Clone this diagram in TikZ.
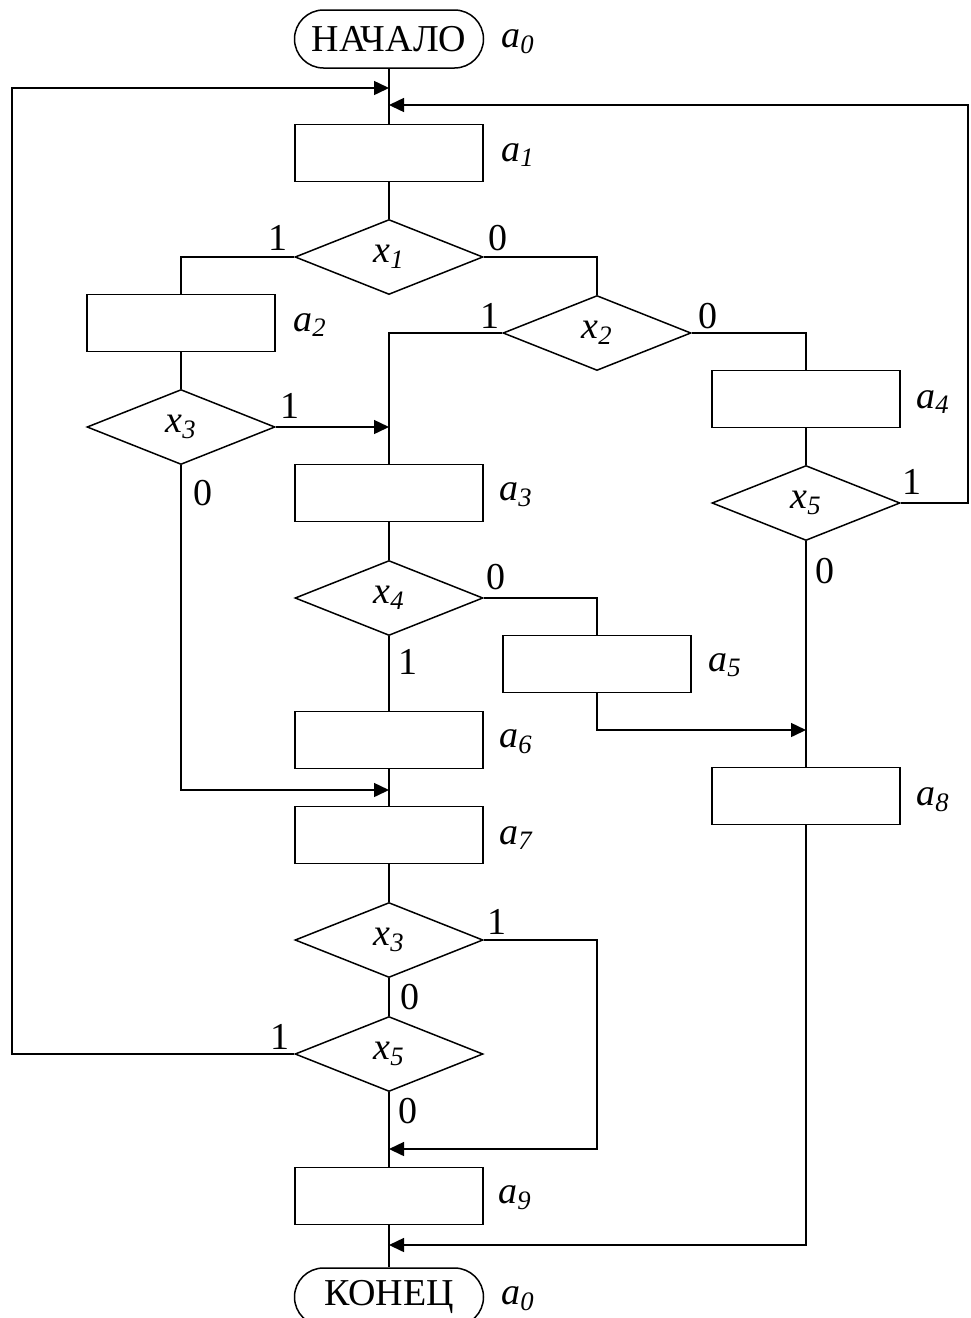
\documentclass[tikz,border=0pt]{standalone}
\usepackage{fontspec}
\setmainfont{Liberation Serif}
\newfontfamily\tnr{Liberation Serif}
\usetikzlibrary{shapes.geometric,arrows.meta}
\newcommand{\lab}[2]{\textit{#1\textsubscript{#2}}}
\tikzset{
  op/.style={draw, rectangle, minimum width=94pt, minimum height=28.5pt, inner sep=0pt},
  dec/.style={draw, diamond, minimum width=94pt, minimum height=37.5pt, inner sep=0pt},
  term/.style={draw, rectangle, rounded corners=14.5pt, minimum width=94.5pt, minimum height=29pt, inner sep=0pt},
  lnk/.style={line width=0.75pt},
  arr/.style={lnk, -{Triangle[length=7.5pt,width=7pt]}},
  txt/.style={inner sep=0pt}
}
\begin{document}
\begin{tikzpicture}[x=0.5pt,y=-0.5pt, every node/.style={font=\tnr\fontsize{19}{22}\selectfont}, line width=0.75pt]
    \useasboundingbox (0,0) rectangle (970,1318);
    % blocks
    \node[term] (start) at (389,39) {НАЧАЛО};
    \node[op] (a1) at (389,153) {};
    \node[dec] (x1) at (389,257) {\lab{x}{1}};
    \node[op] (a2) at (181,323) {};
    \node[dec] (x3a) at (181,427) {\lab{x}{3}};
    \node[dec] (x2) at (597,333) {\lab{x}{2}};
    \node[op] (a4) at (806,399) {};
    \node[dec] (x5a) at (806,503) {\lab{x}{5}};
    \node[op] (a3) at (389,493) {};
    \node[dec] (x4) at (389,598) {\lab{x}{4}};
    \node[op] (a5) at (597,664) {};
    \node[op] (a6) at (389,740) {};
    \node[op] (a7) at (389,835) {};
    \node[op] (a8) at (806,796) {};
    \node[dec] (x3b) at (389,940) {\lab{x}{3}};
    \node[dec] (x5b) at (389,1054) {\lab{x}{5}};
    \node[op] (a9) at (389,1196) {};
    \node[term] (stop) at (389,1297) {КОНЕЦ};
    % state labels
    \node[txt] (la0) at (518,42) {\lab{a}{0}};
    \node[txt] (la1) at (518,155) {\lab{a}{1}};
    \node[txt] (la2) at (310,325) {\lab{a}{2}};
    \node[txt] (la3) at (516,495) {\lab{a}{3}};
    \node[txt] (la4) at (933,402) {\lab{a}{4}};
    \node[txt] (la5) at (725,665) {\lab{a}{5}};
    \node[txt] (la6) at (516,742) {\lab{a}{6}};
    \node[txt] (la7) at (516,838) {\lab{a}{7}};
    \node[txt] (la8) at (933,800) {\lab{a}{8}};
    \node[txt] (la9) at (515,1198) {\lab{a}{9}};
    \node[txt] (lb0) at (518,1299) {\lab{a}{0}};
    % branch labels
    \node[txt] (x1one) at (278,238) {1};
    \node[txt] (x1zero) at (498,238) {0};
    \node[txt] (x2one) at (490,316) {1};
    \node[txt] (x2zero) at (708,316) {0};
    \node[txt] (x3aone) at (290,406) {1};
    \node[txt] (x3azero) at (203,493) {0};
    \node[txt] (x5aone) at (912,482) {1};
    \node[txt] (x5azero) at (825,571) {0};
    \node[txt] (x4zero) at (496,577) {0};
    \node[txt] (x4one) at (408,662) {1};
    \node[txt] (x3bone) at (497,922) {1};
    \node[txt] (x3bzero) at (410,997) {0};
    \node[txt] (x5bone) at (280,1037) {1};
    \node[txt] (x5bzero) at (408,1111) {0};
    % junction points
    \coordinate (in1) at (389,88);
    \coordinate (lc) at (12,88);
    \coordinate (in2) at (389,105);
    \coordinate (rc) at (968,105);
    \coordinate (in3) at (389,427);
    \coordinate (in8) at (806,730);
    \coordinate (in7) at (389,790);
    \coordinate (in9) at (389,1149);
    \coordinate (r9) at (597,1149);
    \coordinate (in0) at (389,1245);
    % connectors
    \draw[lnk] (start) -- (a1);
    \draw[lnk] (a1) -- (x1);
    \draw[lnk] (x1.west) -| (a2.north);
    \draw[lnk] (a2) -- (x3a);
    \draw[arr] (x3a.east) -- (in3);
    \draw[lnk] (x1.east) -| (x2.north);
    \draw[lnk] (x2.west) -| (a3.north);
    \draw[lnk] (x2.east) -| (a4.north);
    \draw[lnk] (a4) -- (x5a);
    \draw[arr] (x5a.east) -| (rc) -- (in2);
    \draw[lnk] (x5a.south) -- (a8.north);
    \draw[lnk] (a3) -- (x4);
    \draw[lnk] (x4.east) -| (a5.north);
    \draw[arr] (a5.south) |- (in8);
    \draw[lnk] (x4.south) -- (a6.north);
    \draw[lnk] (a6) -- (a7);
    \draw[arr] (x3a.south) |- (in7);
    \draw[lnk] (a7) -- (x3b);
    \draw[lnk] (x3b) -- (x5b);
    \draw[arr] (x3b.east) -| (r9) -- (in9);
    \draw[arr] (x5b.west) -| (lc) -- (in1);
    \draw[lnk] (x5b) -- (a9);
    \draw[lnk] (a9) -- (stop);
    \draw[arr] (a8.south) |- (in0);
\end{tikzpicture}
\end{document}
